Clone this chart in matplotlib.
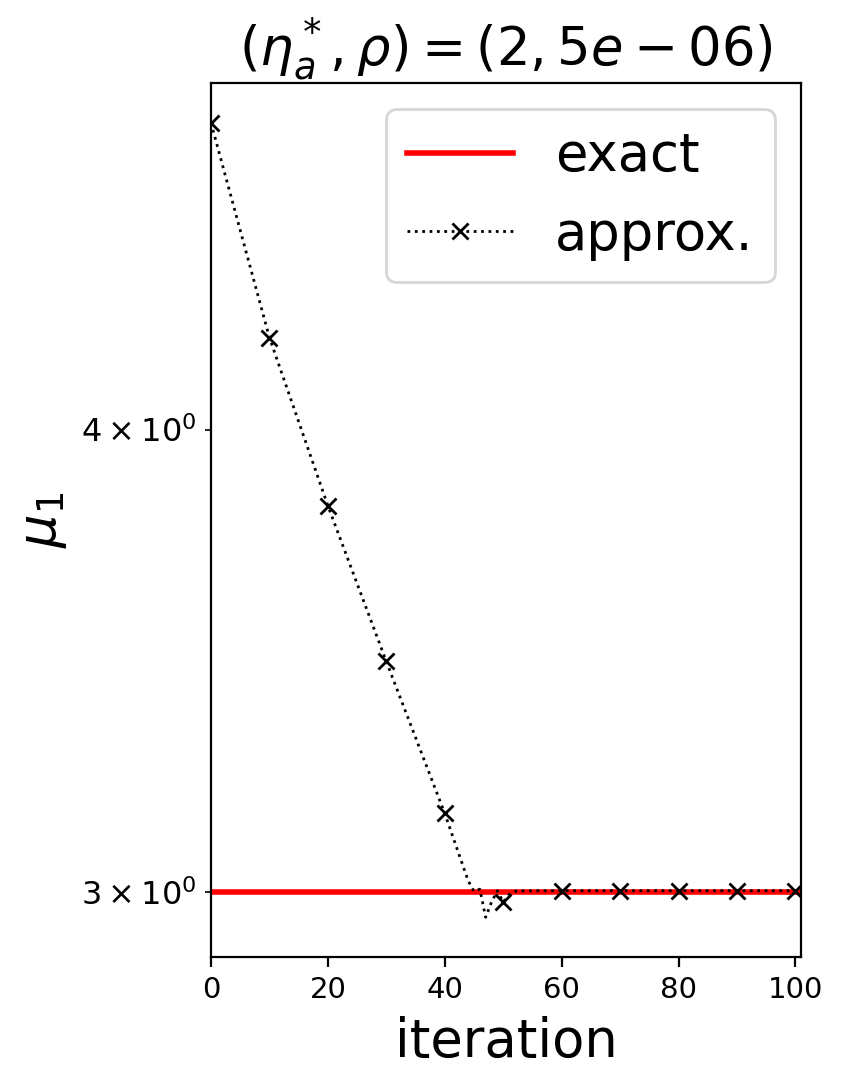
import matplotlib
matplotlib.use("Agg")
import matplotlib.pyplot as plt

# data
iterations = [0, 10, 20, 30, 40, 44, 45, 46, 47, 48, 49, 50, 51, 52, 53,
              60, 70, 80, 90, 100]
approx = [4.84, 4.235, 3.815, 3.463, 3.151, 3.022, 3.002, 3.006, 2.954,
          2.982, 3.003, 2.982, 2.996, 3.002, 3.003,
          3.0033, 3.0033, 3.0033, 3.0033, 3.0033]
exact_value = 3.0
n_iter = 101

marker_idx = [i for i, it in enumerate(iterations) if it % 10 == 0]

fig = plt.figure(figsize=(8.45 / 2, 10.9 / 2), dpi=200)
ax = fig.add_axes([0.2497, 0.122, 0.6985, 0.8018])

ax.plot([0, n_iter], [exact_value, exact_value], color='red', lw=2, label='exact')
ax.plot(iterations, approx, color='black', ls=':', lw=1, marker='x',
        markevery=marker_idx, markersize=6, label='approx.')
ax.set_yscale('log')
ax.set_xlim(0, n_iter)
ax.tick_params(axis='y', which='both', labelsize=11.5)
ax.tick_params(axis='x', labelsize=10.5)
ax.set_title(r'$(\eta_a^*, \rho) = (2, 5e-06)$', fontsize=19)
ax.set_xlabel('iteration', fontsize=19)
ax.set_ylabel(r'$\mu_1$', fontsize=19)
ax.legend(fontsize=19, loc='upper right')

fig.savefig('out.png', dpi=200)
